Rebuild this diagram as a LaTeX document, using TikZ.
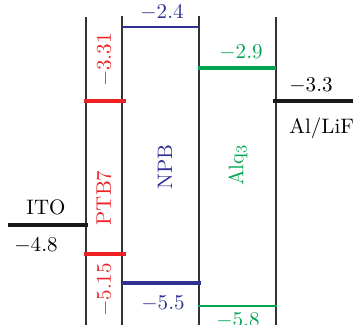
\documentclass[tikz,border=0pt]{standalone}
\usepackage{amsmath}
\definecolor{cred}{RGB}{237,32,36}
\definecolor{cblue}{RGB}{46,49,146}
\definecolor{cgreen}{RGB}{0,166,81}
\begin{document}
\begin{tikzpicture}[x=0.52pt,y=-0.52pt,
  sep/.style={draw=black!80,line width=0.7pt},
  lvl/.style={line width=2pt},
  thin lvl/.style={line width=1.1pt},
  lbl/.style={inner sep=0pt,font=\fontsize{10.9}{13}\selectfont}]
\useasboundingbox (0,0) rectangle (353,325);
% separators
\coordinate (s1t) at (86,17);  \coordinate (s1b) at (86,325);
\coordinate (s2t) at (122,16); \coordinate (s2b) at (122,325);
\coordinate (s3t) at (199,16); \coordinate (s3b) at (199,325);
\coordinate (s4t) at (276,17); \coordinate (s4b) at (276,325);
\draw[sep] (s1t) -- (s1b);
\draw[sep] (s2t) -- (s2b);
\draw[sep] (s3t) -- (s3b);
\draw[sep] (s4t) -- (s4b);
% levels
\coordinate (itoL) at (8,225);   \coordinate (itoR) at (88,225);
\draw[lvl,black!90] (itoL) -- (itoR);
\coordinate (p1L) at (84,101);   \coordinate (p1R) at (126,101);
\draw[lvl,cred] (p1L) -- (p1R);
\coordinate (p2L) at (84,254);   \coordinate (p2R) at (126,254);
\draw[lvl,cred] (p2L) -- (p2R);
\coordinate (n1L) at (122,27);   \coordinate (n1R) at (200,27);
\draw[thin lvl,cblue] (n1L) -- (n1R);
\coordinate (n2L) at (122,283);  \coordinate (n2R) at (201,283);
\draw[lvl,cblue] (n2L) -- (n2R);
\coordinate (a1L) at (198,68);   \coordinate (a1R) at (276,68);
\draw[lvl,cgreen] (a1L) -- (a1R);
\coordinate (a2L) at (198,306);  \coordinate (a2R) at (277,306);
\draw[thin lvl,cgreen] (a2L) -- (a2R);
\coordinate (alL) at (273,101);  \coordinate (alR) at (353,101);
\draw[lvl,black!90] (alL) -- (alR);
% labels
\node[lbl] (tITO) at (46,207) {ITO};
\node[lbl] (t48) at (36,246) {$-4.8$};
\node[lbl,text=cred,rotate=90] (t331) at (105,60) {$-3.31$};
\node[lbl,text=cred,rotate=90] (tPTB) at (104,198) {PTB7};
\node[lbl,text=cred,rotate=90] (t515) at (105,290) {$-5.15$};
\node[lbl,text=cblue] (t24) at (162,13) {$-2.4$};
\node[lbl,text=cblue,rotate=90] (tNPB) at (165,167) {NPB};
\node[lbl,text=cblue] (t55) at (163,304) {$-5.5$};
\node[lbl,text=cgreen] (t29) at (241,53) {$-2.9$};
\node[lbl,text=cgreen,rotate=90] (tAlq) at (238,165) {Alq$_3$};
\node[lbl,text=cgreen] (t58) at (238,321) {$-5.8$};
\node[lbl] (t33) at (311,86) {$-3.3$};
\node[lbl,anchor=west] (tAl) at (289,128) {Al/LiF};
\end{tikzpicture}
\end{document}
